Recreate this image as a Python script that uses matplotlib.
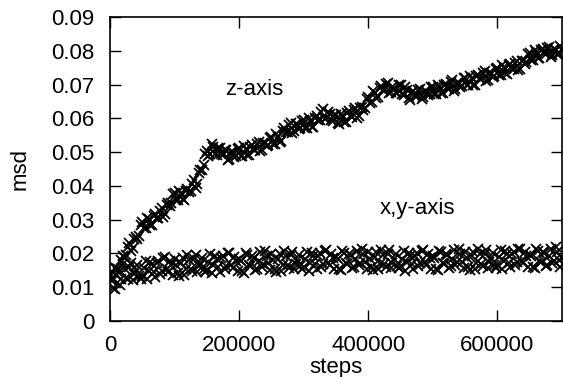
import numpy as np
import matplotlib
matplotlib.use("Agg")
import matplotlib.pyplot as plt

plt.rcParams["font.family"] = ["Liberation Sans", "DejaVu Sans"]

# samples every 5000 steps (0 .. 700000) and in between (2500 .. 697500)
steps_a = np.arange(0, 700001, 5000)
steps_b = np.arange(2500, 700000, 5000)

# msd along z
msd_z_a = [
    0.0134, 0.0123, 0.0156, 0.0149, 0.0191, 0.0195, 0.0231, 0.0217, 0.0248, 0.0251,
    0.0294, 0.0275, 0.0301, 0.0284, 0.0316, 0.0305, 0.0336, 0.0317, 0.0348, 0.0349,
    0.0379, 0.0358, 0.0378, 0.0359, 0.0391, 0.0385, 0.0416, 0.0407, 0.0448, 0.0461,
    0.0504, 0.0493, 0.0516, 0.0492, 0.0511, 0.0490, 0.0506, 0.0480, 0.0500, 0.0488,
    0.0511, 0.0488, 0.0509, 0.0490, 0.0521, 0.0505, 0.0531, 0.0507, 0.0528, 0.0521,
    0.0544, 0.0523, 0.0546, 0.0534, 0.0571, 0.0560, 0.0586, 0.0562, 0.0583, 0.0571,
    0.0594, 0.0571, 0.0593, 0.0574, 0.0606, 0.0595, 0.0628, 0.0602, 0.0613, 0.0591,
    0.0609, 0.0583, 0.0606, 0.0589, 0.0621, 0.0605, 0.0631, 0.0607, 0.0633, 0.0631,
    0.0664, 0.0648, 0.0676, 0.0664, 0.0696, 0.0685, 0.0706, 0.0677, 0.0691, 0.0676,
    0.0699, 0.0668, 0.0683, 0.0654, 0.0681, 0.0665, 0.0688, 0.0662, 0.0681, 0.0671,
    0.0694, 0.0671, 0.0692, 0.0674, 0.0701, 0.0688, 0.0712, 0.0687, 0.0705, 0.0695,
    0.0719, 0.0698, 0.0718, 0.0699, 0.0729, 0.0715, 0.0739, 0.0714, 0.0733, 0.0724,
    0.0749, 0.0728, 0.0751, 0.0732, 0.0761, 0.0745, 0.0771, 0.0747, 0.0771, 0.0766,
    0.0794, 0.0773, 0.0796, 0.0779, 0.0806, 0.0790, 0.0811, 0.0787, 0.0803, 0.0791,
    0.0802,
]
msd_z_b = [
    0.0118, 0.0158, 0.0144, 0.0181, 0.0187, 0.0220, 0.0207, 0.0243, 0.0242, 0.0283,
    0.0274, 0.0306, 0.0284, 0.0311, 0.0305, 0.0327, 0.0309, 0.0343, 0.0341, 0.0375,
    0.0358, 0.0386, 0.0360, 0.0386, 0.0382, 0.0407, 0.0394, 0.0438, 0.0447, 0.0493,
    0.0488, 0.0523, 0.0495, 0.0512, 0.0495, 0.0505, 0.0476, 0.0500, 0.0486, 0.0510,
    0.0489, 0.0517, 0.0491, 0.0516, 0.0507, 0.0525, 0.0502, 0.0528, 0.0517, 0.0543,
    0.0523, 0.0553, 0.0531, 0.0563, 0.0560, 0.0580, 0.0557, 0.0583, 0.0569, 0.0593,
    0.0572, 0.0600, 0.0575, 0.0601, 0.0595, 0.0618, 0.0598, 0.0618, 0.0594, 0.0611,
    0.0585, 0.0613, 0.0589, 0.0616, 0.0607, 0.0625, 0.0602, 0.0630, 0.0624, 0.0658,
    0.0645, 0.0680, 0.0661, 0.0691, 0.0685, 0.0702, 0.0674, 0.0694, 0.0676, 0.0698,
    0.0673, 0.0694, 0.0660, 0.0678, 0.0667, 0.0683, 0.0658, 0.0682, 0.0668, 0.0693,
    0.0672, 0.0700, 0.0674, 0.0698, 0.0689, 0.0707, 0.0682, 0.0706, 0.0692, 0.0718,
    0.0698, 0.0726, 0.0700, 0.0725, 0.0716, 0.0734, 0.0709, 0.0734, 0.0721, 0.0747,
    0.0728, 0.0758, 0.0733, 0.0757, 0.0747, 0.0765, 0.0742, 0.0769, 0.0761, 0.0791,
    0.0773, 0.0803, 0.0779, 0.0803, 0.0792, 0.0807, 0.0782, 0.0805, 0.0789, 0.0813,
]

# msd along x,y
msd_xy_a = [
    0.0139, 0.0099, 0.0137, 0.0106, 0.0168, 0.0128, 0.0160, 0.0121, 0.0152, 0.0134,
    0.0132, 0.0179, 0.0147, 0.0168, 0.0131, 0.0178, 0.0149, 0.0189, 0.0146, 0.0167,
    0.0184, 0.0141, 0.0172, 0.0137, 0.0196, 0.0154, 0.0184, 0.0144, 0.0173, 0.0154,
    0.0152, 0.0197, 0.0165, 0.0184, 0.0146, 0.0193, 0.0163, 0.0202, 0.0158, 0.0179,
    0.0183, 0.0147, 0.0201, 0.0165, 0.0193, 0.0152, 0.0179, 0.0160, 0.0208, 0.0171,
    0.0199, 0.0154, 0.0185, 0.0149, 0.0207, 0.0165, 0.0194, 0.0153, 0.0181, 0.0162,
    0.0160, 0.0205, 0.0172, 0.0191, 0.0154, 0.0200, 0.0170, 0.0209, 0.0165, 0.0186,
    0.0190, 0.0153, 0.0207, 0.0171, 0.0198, 0.0158, 0.0185, 0.0165, 0.0213, 0.0176,
    0.0204, 0.0159, 0.0189, 0.0153, 0.0211, 0.0168, 0.0197, 0.0156, 0.0184, 0.0164,
    0.0162, 0.0207, 0.0174, 0.0193, 0.0155, 0.0201, 0.0171, 0.0210, 0.0166, 0.0187,
    0.0191, 0.0154, 0.0208, 0.0172, 0.0199, 0.0158, 0.0185, 0.0165, 0.0213, 0.0176,
    0.0205, 0.0160, 0.0191, 0.0155, 0.0213, 0.0170, 0.0199, 0.0158, 0.0186, 0.0167,
    0.0165, 0.0210, 0.0177, 0.0197, 0.0159, 0.0205, 0.0175, 0.0214, 0.0171, 0.0192,
    0.0196, 0.0159, 0.0213, 0.0177, 0.0204, 0.0164, 0.0191, 0.0171, 0.0219, 0.0182,
    0.0188,
]
msd_xy_b = [
    0.0123, 0.0094, 0.0153, 0.0124, 0.0153, 0.0123, 0.0172, 0.0140, 0.0167, 0.0125,
    0.0156, 0.0123, 0.0176, 0.0145, 0.0171, 0.0139, 0.0187, 0.0153, 0.0178, 0.0135,
    0.0166, 0.0133, 0.0186, 0.0154, 0.0180, 0.0148, 0.0196, 0.0162, 0.0188, 0.0145,
    0.0175, 0.0141, 0.0193, 0.0160, 0.0186, 0.0153, 0.0200, 0.0165, 0.0190, 0.0147,
    0.0178, 0.0143, 0.0195, 0.0163, 0.0188, 0.0155, 0.0203, 0.0168, 0.0193, 0.0150,
    0.0180, 0.0146, 0.0198, 0.0165, 0.0191, 0.0158, 0.0205, 0.0170, 0.0196, 0.0153,
    0.0183, 0.0148, 0.0200, 0.0168, 0.0193, 0.0160, 0.0207, 0.0172, 0.0197, 0.0155,
    0.0185, 0.0150, 0.0202, 0.0169, 0.0194, 0.0161, 0.0208, 0.0173, 0.0198, 0.0155,
    0.0184, 0.0151, 0.0203, 0.0168, 0.0195, 0.0160, 0.0209, 0.0172, 0.0199, 0.0156,
    0.0185, 0.0149, 0.0201, 0.0170, 0.0193, 0.0162, 0.0207, 0.0174, 0.0197, 0.0154,
    0.0186, 0.0151, 0.0203, 0.0170, 0.0195, 0.0162, 0.0209, 0.0174, 0.0199, 0.0157,
    0.0187, 0.0152, 0.0204, 0.0171, 0.0197, 0.0164, 0.0211, 0.0176, 0.0201, 0.0158,
    0.0189, 0.0154, 0.0206, 0.0173, 0.0199, 0.0166, 0.0213, 0.0178, 0.0203, 0.0160,
    0.0191, 0.0156, 0.0208, 0.0175, 0.0200, 0.0167, 0.0214, 0.0179, 0.0204, 0.0161,
]

xticks = [0, 200000, 400000, 600000]
yticks = [0, 0.01, 0.02, 0.03, 0.04, 0.05, 0.06, 0.07, 0.08, 0.09]
ytick_labels = ["0", "0.01", "0.02", "0.03", "0.04", "0.05", "0.06", "0.07", "0.08", "0.09"]

fig = plt.figure(figsize=(5.63, 3.77), dpi=100)
ax = fig.add_axes([0.1954, 0.1485, 0.8028, 0.8065])

mk = dict(ls="none", marker="x", ms=7.5, mew=1.3, color="black")
ax.plot(steps_a, msd_z_a, **mk)
ax.plot(steps_b, msd_z_b, **mk)
ax.plot(steps_a, msd_xy_a, **mk)
ax.plot(steps_b, msd_xy_b, **mk)

ax.text(224000, 0.0686, "z-axis", fontsize=16, ha="center", va="center")
ax.text(476000, 0.0334, "x,y-axis", fontsize=16, ha="center", va="center")

ax.set_xlim(0, 700000)
ax.set_ylim(0, 0.09)
ax.set_xticks(xticks)
ax.set_xticklabels([str(t) for t in xticks])
ax.set_yticks(yticks)
ax.set_yticklabels(ytick_labels)
ax.tick_params(direction="in", length=8, width=1, top=True, right=True,
               labelsize=16)
ax.tick_params(axis="x", pad=10)
ax.tick_params(axis="y", pad=11)
for s in ax.spines.values():
    s.set_linewidth(1.2)

ax.set_xlabel("steps", fontsize=16, labelpad=0.5)
ax.set_ylabel("msd", fontsize=16, labelpad=15)

fig.savefig("out.png", dpi=100)
